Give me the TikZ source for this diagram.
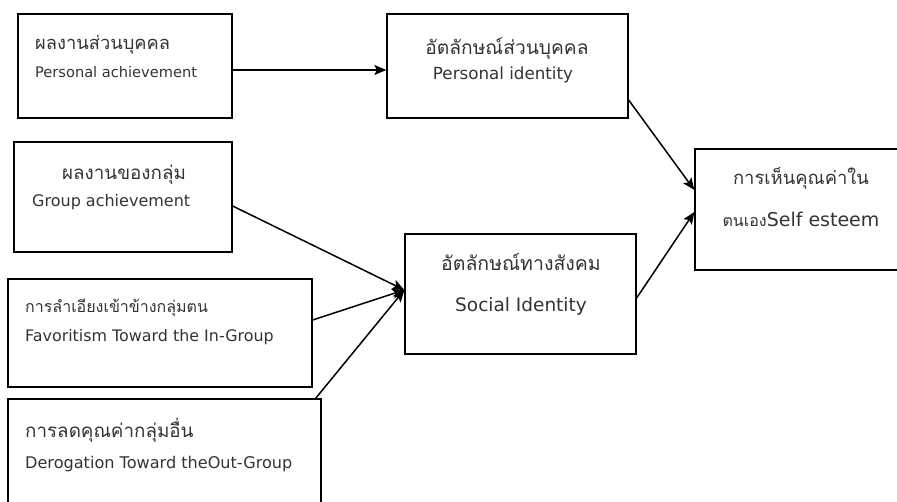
\documentclass[tikz,border=0pt]{standalone}
\usepackage{fontspec}
\setmainfont{DejaVu Sans}
\newfontfamily\thai[Script=Thai]{Loma}
\usetikzlibrary{arrows.meta}

\begin{document}
\begin{tikzpicture}[x=1pt,y=-1pt,
    box/.style={draw,line width=1.3pt,inner sep=0pt},
    th/.style={text=black!80,inner sep=0pt,font=\thai\fontsize{#1}{#1}\selectfont},
    th/.default=18.7,
    en/.style={text=black!80,inner sep=0pt,font=\fontsize{#1}{#1}\selectfont},
    en/.default=15,
    arr/.style={-{Stealth[length=12pt,width=10pt,inset=2.5pt]},line width=1.5pt}]
    \useasboundingbox (0,0) rectangle (897,502);
    \clip (0,0) rectangle (897,502);
    % boxes
    \node[box,minimum width=214,minimum height=104] (pa) at (125,66) {};
    \node[box,minimum width=241,minimum height=104] (pi) at (507.5,66) {};
    \node[box,minimum width=218,minimum height=110] (ga) at (123,197) {};
    \node[box,minimum width=304,minimum height=108] (fav) at (160,333) {};
    \node[box,minimum width=313,minimum height=121] (der) at (164.5,459.5) {};
    \node[box,minimum width=231,minimum height=120] (soc) at (520.5,294) {};
    \node[box,minimum width=215,minimum height=121] (self) at (802.5,209.5) {};
    % texts
    \node[th=18.3,anchor=base west] (pa-th) at (35,50) {ผลงานส่วนบุคคล};
    \node[en=14.6,anchor=base west] (pa-en) at (35,78) {Personal achievement};
    \node[th=19.2,anchor=base] (pi-th) at (507,55) {อัตลักษณ์ส่วนบุคคล};
    \node[en=16.7,anchor=base] (pi-en) at (503,80) {Personal identity};
    \node[th=18.8,anchor=base west] (ga-th) at (62,180) {ผลงานของกลุ่ม};
    \node[en=16,anchor=base west] (ga-en) at (32,207) {Group achievement};
    \node[th=16,anchor=base west] (fav-th) at (25,313) {การลำเอียงเข้าข้างกลุ่มตน};
    \node[en=15.9,anchor=base west] (fav-en) at (25,342) {Favoritism Toward the In-Group};
    \node[th=18.8,anchor=base west] (der-th) at (25,437) {การลดคุณค่ากลุ่มอื่น};
    \node[en=16.1,anchor=base west] (der-en) at (25,468) {Derogation Toward theOut-Group};
    \node[th=19.5,anchor=base] (soc-th) at (521,271) {อัตลักษณ์ทางสังคม};
    \node[en=18.5,anchor=base] (soc-en) at (521,312) {Social Identity};
    \node[th=18.4,anchor=base] (self-th) at (801,185) {การเห็นคุณค่าใน};
    \node[en=19,anchor=base] (self-en) at (801,227) {{\thai\fontsize{16}{16}\selectfont ตนเอง}Self esteem};
    % arrows
    \draw[arr] ([yshift=-4pt]pa.east) -- ([yshift=-4pt]pi.west);
    \draw[arr] ([yshift=-9pt]ga.east) -- ([yshift=4pt]soc.west);
    \draw[arr] ([yshift=13pt]fav.east) -- ([yshift=4pt]soc.west);
    \draw[arr] ([xshift=-6pt]der.north east) -- ([yshift=4pt]soc.west);
    \draw[arr] ([yshift=-34pt]pi.east) -- ([yshift=19.5pt]self.west);
    \draw[arr] ([yshift=-4pt]soc.east) -- ([yshift=-2.5pt]self.west);
\end{tikzpicture}
\end{document}
